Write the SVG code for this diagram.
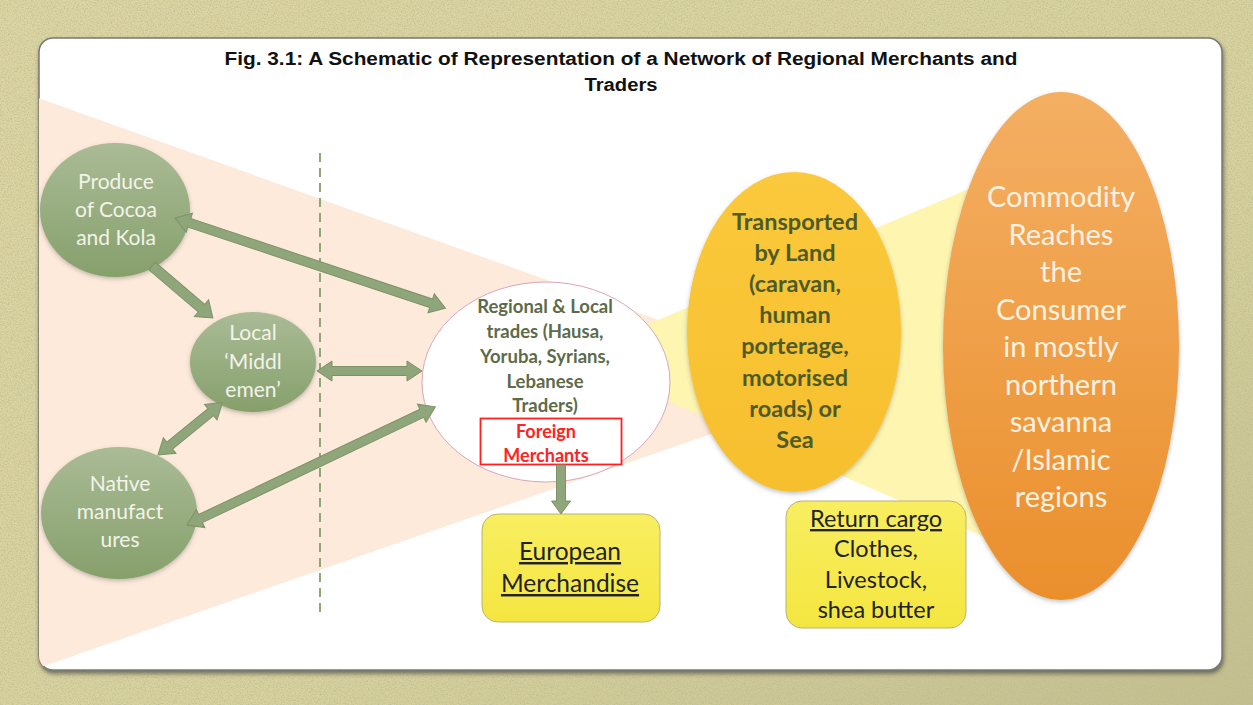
<svg xmlns="http://www.w3.org/2000/svg" width="1253" height="705" viewBox="0 0 1253 705">
<defs>
  <filter id="tex" x="0" y="0" width="100%" height="100%">
    <feTurbulence type="fractalNoise" baseFrequency="0.7" numOctaves="3" seed="7"/>
    <feColorMatrix type="matrix" values="0 0 0 0 0.50  0 0 0 0 0.48  0 0 0 0 0.28  1.6 0 0 0 -0.62"/>
  </filter>
  <filter id="shadow" x="-5%" y="-5%" width="110%" height="115%">
    <feDropShadow dx="1" dy="3" stdDeviation="2" flood-color="#444" flood-opacity="0.7"/>
  </filter>
  <filter id="soft" x="-10%" y="-10%" width="120%" height="125%">
    <feDropShadow dx="0" dy="2" stdDeviation="2" flood-color="#555" flood-opacity="0.35"/>
  </filter>
  <linearGradient id="green" x1="0" y1="0" x2="0" y2="1">
    <stop offset="0" stop-color="#aabb96"/>
    <stop offset="1" stop-color="#86a06b"/>
  </linearGradient>
  <linearGradient id="gold" x1="0" y1="0" x2="0" y2="1">
    <stop offset="0" stop-color="#fbc93c"/>
    <stop offset="1" stop-color="#f6bf2e"/>
  </linearGradient>
  <linearGradient id="orange" x1="0" y1="0" x2="0" y2="1">
    <stop offset="0" stop-color="#f4af63"/>
    <stop offset="1" stop-color="#ea8f2c"/>
  </linearGradient>
  <linearGradient id="yel" x1="0" y1="0" x2="0" y2="1">
    <stop offset="0" stop-color="#f8ee60"/>
    <stop offset="1" stop-color="#f4e640"/>
  </linearGradient>
  <linearGradient id="bgshade" x1="0" y1="0" x2="1" y2="1">
    <stop offset="0" stop-color="#ddd6a4"/>
    <stop offset="0.6" stop-color="#d8d29e"/>
    <stop offset="1" stop-color="#c4bf8e"/>
  </linearGradient>
  <clipPath id="panelClip">
    <rect x="39" y="38" width="1183" height="632" rx="14"/>
  </clipPath>
  <style>
    .greenNode { fill: url(#green); filter: url(#soft); }
    .gtxt { font-family: Lato, "Open Sans", sans-serif; font-size: 21px; fill: #f3f3ea; text-anchor: middle; }
    .arrow { fill: #8fa67a; stroke: #7c9267; stroke-width: 1; }
    .reg { font-family: Lato, "Open Sans", sans-serif; font-weight: bold; font-size: 18.5px; fill: #5d6b4a; text-anchor: middle; }
    .red { font-family: Lato, "Open Sans", sans-serif; font-weight: bold; font-size: 18px; fill: #ff2222; text-anchor: middle; }
    .box { font-family: Lato, "Open Sans", sans-serif; font-size: 24.5px; fill: #222; text-anchor: middle; }
    .ret { font-family: Lato, "Open Sans", sans-serif; font-size: 23.5px; fill: #222; text-anchor: middle; }
    .trn { font-family: Lato, "Open Sans", sans-serif; font-weight: bold; font-size: 23.5px; fill: #4e5a28; text-anchor: middle; }
    .com { font-family: Lato, "Open Sans", sans-serif; font-size: 29px; fill: #fdf1e2; text-anchor: middle; }
    .title { font-family: "Liberation Sans", Arial, sans-serif; font-weight: bold; font-size: 18px; fill: #111; text-anchor: middle; }
  </style>
</defs>

<!-- background -->
<rect x="0" y="0" width="1253" height="705" fill="url(#bgshade)"/>
<rect x="0" y="0" width="1253" height="705" filter="url(#tex)"/>

<!-- panel -->
<rect x="39" y="38" width="1183" height="632" rx="14" fill="#ffffff" stroke="#7a7a72" stroke-width="1.5" filter="url(#shadow)"/>

<g clip-path="url(#panelClip)">
  <polygon points="30,95 846,387 30,671" fill="#fdeadb"/>
  <polygon points="568,358 1061,150 1061,570" fill="#fdf5b0"/>
</g>

<!-- title -->
<text class="title" x="621" y="65" textLength="793" lengthAdjust="spacingAndGlyphs">Fig. 3.1: A Schematic of Representation of a Network of Regional Merchants and</text>
<text class="title" x="621" y="91" textLength="73" lengthAdjust="spacingAndGlyphs">Traders</text>

<!-- divider -->
<line x1="320" y1="153" x2="320" y2="617" stroke="#8fa67a" stroke-width="2" stroke-dasharray="9,6"/>

<!-- nodes -->
<g id="produce">
  <ellipse class="greenNode" cx="115" cy="210" rx="75" ry="67"/>
  <text class="gtxt" x="116" y="189">Produce</text>
  <text class="gtxt" x="116" y="217">of Cocoa</text>
  <text class="gtxt" x="116" y="245">and Kola</text>
</g>
<g id="middlemen">
  <ellipse class="greenNode" cx="253" cy="362" rx="63" ry="50"/>
  <text class="gtxt" x="253" y="340">Local</text>
  <text class="gtxt" x="253" y="369">‘Middl</text>
  <text class="gtxt" x="253" y="397">emen’</text>
</g>
<g id="native">
  <ellipse class="greenNode" cx="119" cy="513" rx="78" ry="66"/>
  <text class="gtxt" x="120" y="491">Native</text>
  <text class="gtxt" x="120" y="519">manufact</text>
  <text class="gtxt" x="120" y="547">ures</text>
</g>
<g id="regional">
  <ellipse cx="546" cy="382" rx="124" ry="100" fill="#ffffff" stroke="#dba5b8" stroke-width="1"/>
  <text class="reg" x="545" y="313">Regional &amp; Local</text>
  <text class="reg" x="545" y="338">trades (Hausa,</text>
  <text class="reg" x="545" y="363">Yoruba,  Syrians,</text>
  <text class="reg" x="545" y="388">Lebanese</text>
  <text class="reg" x="545" y="412">Traders)</text>
</g>
<g id="foreign">
  <rect x="480.5" y="418.5" width="141" height="46" fill="#ffffff" stroke="#ff2020" stroke-width="1.8"/>
  <text class="red" x="546" y="438">Foreign</text>
  <text class="red" x="546" y="462">Merchants</text>
</g>
<g id="european">
  <rect x="482" y="514" width="178" height="108" rx="16" fill="url(#yel)" stroke="#b9b27a" stroke-width="1"/>
  <text class="box" x="570" y="560" text-decoration="underline">European</text>
  <text class="box" x="570" y="592" text-decoration="underline">Merchandise</text>
</g>
<g id="transport">
  <ellipse cx="794" cy="332" rx="107" ry="160" fill="url(#gold)" filter="url(#soft)"/>
  <text class="trn" x="795" y="230">Transported</text>
  <text class="trn" x="795" y="261">by Land</text>
  <text class="trn" x="795" y="292">(caravan,</text>
  <text class="trn" x="795" y="323">human</text>
  <text class="trn" x="795" y="354">porterage,</text>
  <text class="trn" x="795" y="386">motorised</text>
  <text class="trn" x="795" y="417">roads) or</text>
  <text class="trn" x="795" y="448">Sea</text>
</g>
<g id="returncargo">
  <rect x="786" y="501" width="180" height="127" rx="16" fill="url(#yel)" stroke="#b9b27a" stroke-width="1"/>
  <text class="ret" x="876" y="527" text-decoration="underline">Return cargo</text>
  <text class="ret" x="876" y="557">Clothes,</text>
  <text class="ret" x="876" y="588">Livestock,</text>
  <text class="ret" x="876" y="618">shea butter</text>
</g>
<g id="commodity">
  <ellipse cx="1061" cy="346" rx="118" ry="254" fill="url(#orange)" filter="url(#soft)"/>
  <text class="com" x="1061" y="207">Commodity</text>
  <text class="com" x="1061" y="245">Reaches</text>
  <text class="com" x="1061" y="282">the</text>
  <text class="com" x="1061" y="320">Consumer</text>
  <text class="com" x="1061" y="357">in mostly</text>
  <text class="com" x="1061" y="395">northern</text>
  <text class="com" x="1061" y="432">savanna</text>
  <text class="com" x="1061" y="470">/Islamic</text>
  <text class="com" x="1061" y="507">regions</text>
</g>

<!-- connectors -->
<g id="connectors">
  <polygon class="arrow" transform="translate(175,218) rotate(18.43)" points="0,0 15,-10 15,-4.5 270,-4.5 270,-10 285,0 270,10 270,4.5 15,4.5 15,10"/>
  <polygon class="arrow" transform="translate(152,266) rotate(40.45)" points="0,-5 65,-5 65,-11 80,0 65,11 65,5 0,5"/>
  <polygon class="arrow" transform="translate(317,371)" points="0,0 15,-10 15,-4.5 90,-4.5 90,-10 105,0 90,10 90,4.5 15,4.5 15,10"/>
  <polygon class="arrow" transform="translate(158,455) rotate(-39.1)" points="0,0 15,-10 15,-4.5 68,-4.5 68,-10 83,0 68,10 68,4.5 15,4.5 15,10"/>
  <polygon class="arrow" transform="translate(187,525) rotate(-25.45)" points="0,0 15,-10 15,-4.5 260,-4.5 260,-10 275,0 260,10 260,4.5 15,4.5 15,10"/>
  <polygon class="arrow" transform="translate(561,465) rotate(90)" points="0,-4.5 36,-4.5 36,-9.5 49,0 36,9.5 36,4.5 0,4.5"/>
</g>
</svg>
